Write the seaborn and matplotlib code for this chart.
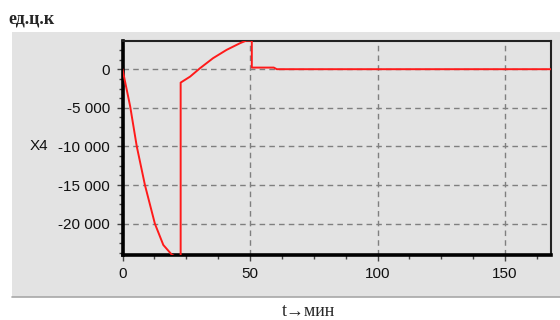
import numpy as np
import pandas as pd
import matplotlib
matplotlib.use('Agg')
import matplotlib.pyplot as plt
import matplotlib.ticker as mticker
from matplotlib.patches import Rectangle
from matplotlib.lines import Line2D
import seaborn as sns

# values
t_min = [0, 3.0, 5.6, 8.8, 12.7, 16.0, 19.3, 22.8, 22.8, 26.5, 30.4, 35.5,
         40.8, 46.1, 48.5, 50.7, 50.7, 59.3, 60.5, 168]
x4 = [0, -4800, -10000, -15000, -20000, -22750, -24000, -24600, -1735, -960,
      130, 1425, 2500, 3370, 3700, 3700, 210, 210, 0, 0]
x_ticks = [0, 50, 100, 150]
y_ticks = [0, -5000, -10000, -15000, -20000]

df = pd.DataFrame({'t': t_min, 'X4': x4})

sns.set_style('white')
plt.rcParams['font.family'] = ['Liberation Sans', 'DejaVu Sans']

fig = plt.figure(figsize=(5.6, 3.2), dpi=100)
fig.patch.set_facecolor('white')

# grey panel behind the plot
panel = Rectangle((12 / 560, 1 - 297 / 320), 548 / 560, 265 / 320,
                  transform=fig.transFigure, facecolor='#e3e3e3',
                  edgecolor='none', zorder=-10)
fig.patches.append(panel)
fig.lines.append(Line2D([12 / 560, 1], [1 - 297 / 320, 1 - 297 / 320],
                        transform=fig.transFigure, color='#a8a8a8', lw=1.2,
                        zorder=-9))

ax = fig.add_axes([122.5 / 560, 1 - 255 / 320, 428.5 / 560, 214 / 320])
ax.set_facecolor('#e3e3e3')
ax.set_zorder(1)

sns.lineplot(data=df, x='t', y='X4', ax=ax, color='#ff1a1a', lw=1.4,
             estimator=None, sort=False, zorder=3)

ax.set_xlim(0, 168)
ax.set_ylim(-24050, 3650)
ax.set_xticks(x_ticks)
ax.set_yticks(y_ticks)
ax.xaxis.set_minor_locator(mticker.MultipleLocator(12.5))
ax.yaxis.set_minor_locator(mticker.MultipleLocator(1250))
ax.yaxis.set_major_formatter(mticker.FuncFormatter(
    lambda v, p: f'{int(v):,}'.replace(',', ' ')))

ax.grid(True, which='major', color='#7f7f7f', ls=(0, (4, 3)), lw=1.0)
ax.tick_params(axis='both', which='major', direction='out', length=4,
               width=1, color='#444444', labelsize=11, labelcolor='#111111',
               left=True, bottom=True, pad=5)
ax.tick_params(axis='both', which='minor', direction='out', length=3,
               width=1, color='#444444', left=True, bottom=True)

for side in ['left', 'bottom']:
    ax.spines[side].set_linewidth(2.6)
    ax.spines[side].set_color('black')
for side in ['top', 'right']:
    ax.spines[side].set_linewidth(1.5)
    ax.spines[side].set_color('#222222')

ax.set_xlabel('')
ax.set_ylabel('X4', rotation=0, fontsize=11, color='#111111', va='center')
ax.yaxis.set_label_coords(-0.195, 0.509)

fig.text(8 / 560, 1 - 19 / 320, 'ед.ц.к', fontsize=13, fontweight='bold',
         family=['Liberation Serif', 'DejaVu Serif'], va='center', ha='left')
fig.text(282 / 560, 1 - 311 / 320, 't\u2192мин', fontsize=13,
         family=['Liberation Serif', 'DejaVu Serif'], va='center', ha='left')

fig.savefig('out.png', dpi=100)
